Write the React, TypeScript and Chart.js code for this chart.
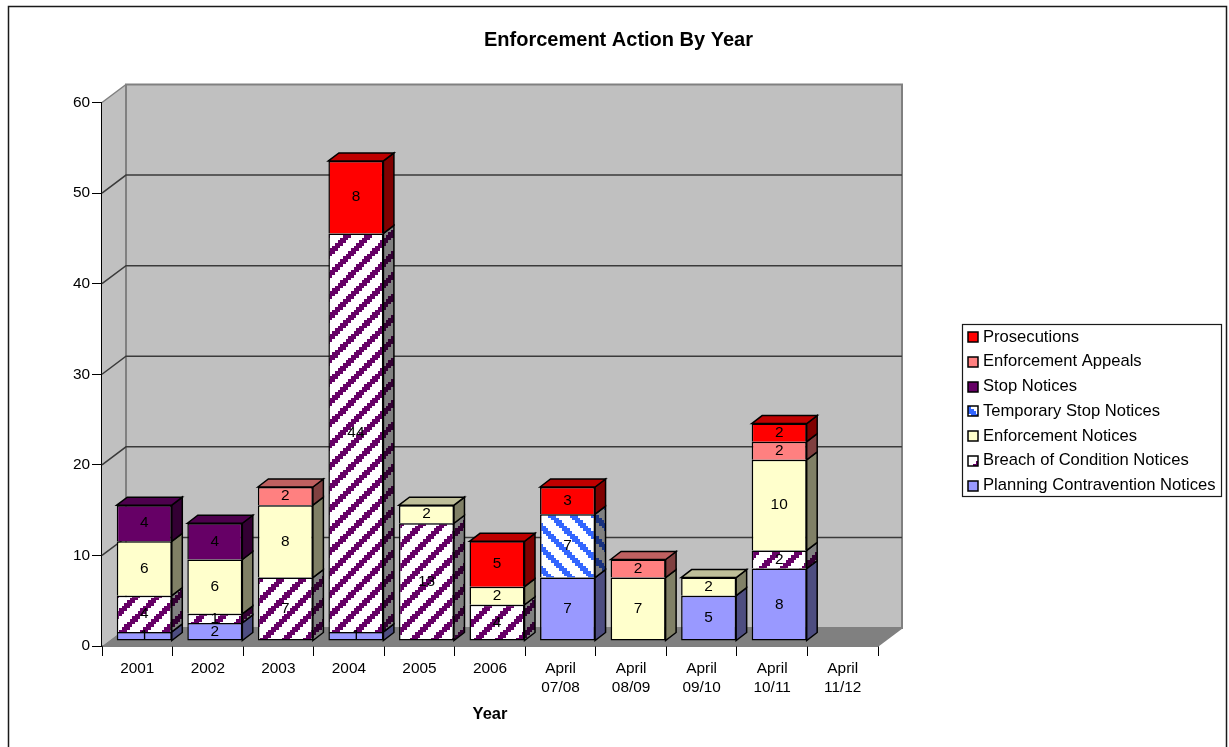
import { useEffect, useRef } from "react";
import { Chart, registerables, layouts } from "chart.js";

Chart.register(...registerables);

const years = ["2001", "2002", "2003", "2004", "2005", "2006", ["April", "07/08"], ["April", "08/09"], ["April", "09/10"], ["April", "10/11"], ["April", "11/12"]];

const planningContravention = [1, 2, null, 1, null, null, 7, null, 5, 8, null];
const breachOfCondition = [4, 1, 7, 44, 13, 4, null, null, null, 2, null];
const enforcementNotices = [6, 6, 8, null, 2, 2, null, 7, 2, 10, null];
const temporaryStop = [null, null, null, null, null, null, 7, null, null, null, null];
const stopNotices = [4, 4, null, null, null, null, null, null, null, null, null];
const enforcementAppeals = [null, null, 2, null, null, null, null, 2, null, 2, null];
const prosecutions = [null, null, null, 8, null, 5, 3, null, null, 2, null];

const FONT = "'Liberation Sans', Arial, sans-serif";
const LABEL_SIZE = 15.4;
const KEY_SIZE = 16.6;

// Depth of the floor and walls, and where the bars sit inside that depth.
const WALL_DX = 24;
const WALL_DY = -18;
const BAR_DX = 7;
const BAR_DY = -5;
const BAR_DEPTH_X = 10.5;
const BAR_DEPTH_Y = -8;

type Style = { label: string; data: (number | null)[]; base: string; hatch?: "up" | "down" };

// Listed from the bottom of the stack upward.
const seriesStyles: Style[] = [
  { label: "Planning Contravention Notices", data: planningContravention, base: "#9999FF" },
  { label: "Breach of Condition Notices", data: breachOfCondition, base: "#660066", hatch: "up" },
  { label: "Enforcement Notices", data: enforcementNotices, base: "#FFFFCC" },
  { label: "Temporary Stop Notices", data: temporaryStop, base: "#3366FF", hatch: "down" },
  { label: "Stop Notices", data: stopNotices, base: "#660066" },
  { label: "Enforcement Appeals", data: enforcementAppeals, base: "#FF8080" },
  { label: "Prosecutions", data: prosecutions, base: "#FF0000" },
];

function shade(hex: string, factor: number): string {
  const n = parseInt(hex.slice(1), 16);
  const c = [(n >> 16) & 255, (n >> 8) & 255, n & 255].map((v) => Math.round(v * factor));
  return `rgb(${c[0]},${c[1]},${c[2]})`;
}

// Stair-stepped diagonal stripe: a 64px tile holds three repeats of an 8-block motif.
function stripePattern(ctx: CanvasRenderingContext2D, ink: string, paper: string, dir: "up" | "down") {
  const tile = document.createElement("canvas");
  tile.width = 64;
  tile.height = 64;
  const t = tile.getContext("2d")!;
  t.fillStyle = paper;
  t.fillRect(0, 0, 64, 64);
  t.fillStyle = ink;
  const edge = (b: number) => Math.round((b * 8) / 3);
  for (let y = 0; y < 24; y++) {
    for (let x = 0; x < 24; x++) {
      const k = dir === "up" ? x + y : x - y + 24;
      if (k % 8 < 3) t.fillRect(edge(x), edge(y), edge(x + 1) - edge(x), edge(y + 1) - edge(y));
    }
  }
  return ctx.createPattern(tile, "repeat")!;
}

function faceFill(ctx: CanvasRenderingContext2D, s: Style, factor: number) {
  if (!s.hatch) return shade(s.base, factor);
  return stripePattern(ctx, shade(s.base, factor), shade("#FFFFFF", factor), s.hatch);
}

function poly(ctx: CanvasRenderingContext2D, pts: number[][], fill: string | CanvasPattern | null, stroke: string | null, width = 1) {
  ctx.beginPath();
  pts.forEach(([x, y], i) => (i ? ctx.lineTo(x, y) : ctx.moveTo(x, y)));
  ctx.closePath();
  if (fill) {
    ctx.fillStyle = fill;
    ctx.fill();
  }
  if (stroke) {
    ctx.strokeStyle = stroke;
    ctx.lineWidth = width;
    ctx.lineJoin = "miter";
    ctx.stroke();
  }
}

// Outer frame of the chart; its lower edge runs off the page.
const framePlugin = {
  id: "frame",
  beforeDraw(chart: Chart) {
    const ctx = chart.ctx;
    ctx.save();
    ctx.strokeStyle = "#1a1a1a";
    ctx.lineWidth = 1.5;
    ctx.strokeRect(8.5, 6.5, 1218, 800);
    ctx.restore();
  },
};

// Floor, walls and grid on the back wall, then the side and top faces of each bar.
const depthPlugin = {
  id: "depth",
  beforeDatasetsDraw(chart: Chart) {
    const ctx = chart.ctx;
    const { left, right, top, bottom } = chart.chartArea;
    const y = chart.scales.y;
    ctx.save();
    poly(ctx, [[left, bottom], [left + WALL_DX, bottom + WALL_DY], [left + WALL_DX, top + WALL_DY], [left, top]], "#C0C0C0", null);
    poly(ctx, [[left + WALL_DX, top + WALL_DY], [right + WALL_DX, top + WALL_DY], [right + WALL_DX, bottom + WALL_DY], [left + WALL_DX, bottom + WALL_DY]], "#C0C0C0", "#808080", 2);
    poly(ctx, [[left, top], [left + WALL_DX, top + WALL_DY]], null, "#808080", 1.5);
    for (const tick of y.ticks) {
      if (tick.value === 0 || tick.value === 60) continue;
      const py = y.getPixelForValue(tick.value);
      ctx.strokeStyle = "#3a3a3a";
      ctx.lineWidth = 1.5;
      ctx.beginPath();
      ctx.moveTo(left, py);
      ctx.lineTo(left + WALL_DX, py + WALL_DY);
      ctx.lineTo(right + WALL_DX, py + WALL_DY);
      ctx.stroke();
    }
    poly(ctx, [[left, bottom], [left + WALL_DX, bottom + WALL_DY], [right + WALL_DX, bottom + WALL_DY], [right, bottom]], "#808080", null);
    ctx.strokeStyle = "#808080";
    ctx.lineWidth = 1.5;
    ctx.beginPath();
    ctx.moveTo(right, bottom);
    ctx.lineTo(right + WALL_DX, bottom + WALL_DY);
    ctx.stroke();

    // Everything belonging to the bars is shifted into the floor's depth.
    ctx.translate(BAR_DX, BAR_DY);
    seriesStyles.forEach((s, di) => {
      const side = faceFill(ctx, s, 0.5);
      const cap = faceFill(ctx, s, 0.75);
      chart.getDatasetMeta(di).data.forEach((bar: any, i: number) => {
        if (s.data[i] == null) return;
        const r = bar.x + bar.width / 2;
        const l = bar.x - bar.width / 2;
        poly(ctx, [[r, bar.y], [r + BAR_DEPTH_X, bar.y + BAR_DEPTH_Y], [r + BAR_DEPTH_X, bar.base + BAR_DEPTH_Y], [r, bar.base]], side, "#000", 1.5);
        const isTop = seriesStyles.slice(di + 1).every((o) => o.data[i] == null);
        if (isTop) {
          poly(ctx, [[l, bar.y], [l + BAR_DEPTH_X, bar.y + BAR_DEPTH_Y], [r + BAR_DEPTH_X, bar.y + BAR_DEPTH_Y], [r, bar.y]], cap, "#000", 1.5);
        }
      });
    });
  },
  afterDatasetsDraw(chart: Chart) {
    const ctx = chart.ctx;
    ctx.fillStyle = "#000";
    ctx.font = `${LABEL_SIZE}px ${FONT}`;
    ctx.textAlign = "center";
    ctx.textBaseline = "middle";
    seriesStyles.forEach((s, di) => {
      chart.getDatasetMeta(di).data.forEach((bar: any, i: number) => {
        const v = s.data[i];
        if (v == null) return;
        ctx.fillText(String(v), bar.x, (bar.y + bar.base) / 2);
      });
    });
    ctx.restore();
  },
};

// Framed key in the right margin, listed from the top of the stack down.
const LEGEND_WIDTH = 351;
const keyBox: any = {
  position: "right",
  weight: 0,
  fullSize: false,
  options: {},
  left: 0,
  top: 0,
  right: 0,
  bottom: 0,
  width: LEGEND_WIDTH,
  height: 0,
  chart: null,
  isHorizontal: () => false,
  update(_w: number, h: number) {
    this.width = LEGEND_WIDTH;
    this.height = h;
  },
  draw() {
    const ctx: CanvasRenderingContext2D = this.chart.ctx;
    ctx.save();
    ctx.fillStyle = "#fff";
    ctx.fillRect(962.5, 324.5, 259, 172);
    ctx.strokeStyle = "#1a1a1a";
    ctx.lineWidth = 1.2;
    ctx.strokeRect(962.5, 324.5, 259, 172);
    ctx.font = `${KEY_SIZE}px ${FONT}`;
    ctx.textBaseline = "middle";
    ctx.textAlign = "left";
    [...seriesStyles].reverse().forEach((s, i) => {
      const cy = 337 + i * 24.75;
      const shift = s.hatch === "up" ? 8 : s.hatch === "down" ? 5 : 0;
      ctx.save();
      ctx.translate(968 - shift, Math.round(cy) - 5);
      ctx.fillStyle = s.hatch ? stripePattern(ctx, s.base, "#FFFFFF", s.hatch) : s.base;
      ctx.fillRect(shift, 0, 10, 10);
      ctx.strokeStyle = "#000";
      ctx.lineWidth = 1.5;
      ctx.strokeRect(shift, 0, 10, 10);
      ctx.restore();
      ctx.fillStyle = "#000";
      ctx.fillText(s.label, 983, cy);
    });
    ctx.restore();
  },
};

const keyPlugin = {
  id: "key",
  beforeInit(chart: Chart) {
    keyBox.chart = chart;
    layouts.addBox(chart, keyBox);
  },
};

// One outline between neighbouring segments: only the lowest segment of a stack keeps its bottom edge.
function segmentBorder(c: any) {
  const lowest = seriesStyles.slice(0, c.datasetIndex).every((o) => o.data[c.dataIndex] == null);
  return { top: 1.5, left: 1.5, right: 1.5, bottom: lowest ? 1.5 : 0 };
}

export default function App() {
  const ref = useRef<HTMLCanvasElement>(null);

  useEffect(() => {
    const canvas = ref.current!;
    const ctx = canvas.getContext("2d")!;
    const chart = new Chart(canvas, {
      type: "bar",
      data: {
        labels: years as any,
        datasets: seriesStyles.map((s) => ({
          label: s.label,
          data: s.data,
          backgroundColor: faceFill(ctx, s, 1) as any,
          borderColor: "#000",
          borderWidth: segmentBorder,
          borderSkipped: false,
          barPercentage: 0.78,
          categoryPercentage: 1,
          clip: false as any,
        })),
      },
      options: {
        responsive: false,
        animation: false,
        events: [],
        layout: { autoPadding: false, padding: { left: 8, right: 0, top: 0, bottom: 0 } },
        scales: {
          x: {
            stacked: true,
            afterFit: (s: any) => {
              s.height = 101;
            },
            grid: { drawOnChartArea: false, tickLength: 10, tickColor: "#000", offset: true },
            border: { display: true, color: "#000", width: 1.5 },
            ticks: { color: "#000", font: { family: FONT, size: LABEL_SIZE, lineHeight: 1.18 }, padding: 4, maxRotation: 0, autoSkip: false },
            title: { display: true, text: "Year", color: "#000", font: { family: FONT, size: 16.5, weight: "bold" }, padding: { top: 0, bottom: 22.5 } },
          },
          y: {
            stacked: true,
            min: 0,
            max: 60,
            afterFit: (s: any) => {
              s.width = 94;
            },
            grid: { drawOnChartArea: false, tickLength: 10, tickColor: "#000" },
            border: { display: true, color: "#000", width: 1.5 },
            ticks: { stepSize: 10, color: "#000", font: { family: FONT, size: LABEL_SIZE }, padding: 2 },
          },
        },
        plugins: {
          legend: { display: false },
          tooltip: { enabled: false },
          title: {
            display: true,
            text: "Enforcement Action By Year",
            color: "#000",
            font: { family: FONT, size: 20, weight: "bold" },
            padding: { top: 28, bottom: 50.5 },
          },
        },
      },
      plugins: [framePlugin, depthPlugin, keyPlugin],
    } as any);
    return () => chart.destroy();
  }, []);

  return (
    <div>
      <canvas ref={ref} width={1229} height={747} style={{ position: "fixed", left: 0, top: 0, width: 1229, height: 747, background: "#fff" }} />
    </div>
  );
}
